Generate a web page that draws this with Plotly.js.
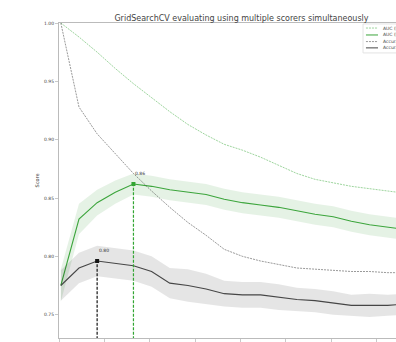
<!DOCTYPE html>
<html>
<head>
<meta charset="utf-8">
<script src="https://cdn.plot.ly/plotly-3.0.1.min.js"></script>
<style>
html,body{margin:0;padding:0;overflow:hidden;background:#fff;}
#chart{width:440px;height:370px;}
</style>
</head>
<body>
<div id="chart"></div>
<script>
// ---- data ----
var minSamplesSplit = [2,22,42,62,82,102,122,142,162,182,202,222,242,262,282,302,322,342,362,382,402];
var aucTrain = [1.000,0.988,0.975,0.961,0.948,0.936,0.924,0.913,0.904,0.896,0.891,0.885,0.878,0.871,0.866,0.863,0.860,0.858,0.856,0.854,0.852];
var aucTest  = [0.775,0.832,0.846,0.855,0.862,0.860,0.857,0.855,0.853,0.849,0.846,0.844,0.842,0.839,0.836,0.834,0.830,0.827,0.825,0.823,0.822];
var aucTestStd = [0.014,0.013,0.011,0.010,0.009,0.009,0.009,0.009,0.009,0.009,0.009,0.009,0.009,0.009,0.009,0.009,0.009,0.009,0.009,0.009,0.009];
var accTrain = [1.000,0.928,0.905,0.888,0.871,0.856,0.842,0.829,0.818,0.806,0.800,0.796,0.793,0.790,0.789,0.788,0.787,0.787,0.786,0.786,0.786];
var accTest  = [0.775,0.790,0.796,0.794,0.792,0.787,0.777,0.775,0.772,0.768,0.767,0.767,0.765,0.763,0.762,0.760,0.758,0.758,0.758,0.759,0.759];
var accTestStd = [0.013,0.013,0.013,0.013,0.013,0.013,0.013,0.014,0.013,0.011,0.011,0.011,0.011,0.010,0.010,0.010,0.009,0.010,0.009,0.009,0.009];
var legendLabels = ["AUC (train)","AUC (test)","Accuracy (train)","Accuracy (test)"];
var yTicks = [0.75,0.80,0.85,0.90,0.95,1.00];
var xTicks = [0,50,100,150,200,250,300,350,400];

var green = "rgb(60,165,60)";
var greenLight = "rgba(60,170,60,0.5)";
var black = "rgb(70,70,70)";
var blackLight = "rgba(70,70,70,0.55)";

function band(mean, std, fill){
  var up = mean.map(function(v,i){return v+std[i];});
  var lo = mean.map(function(v,i){return v-std[i];});
  return [
    {x:minSamplesSplit, y:lo, mode:"lines", line:{width:0}, hoverinfo:"skip", showlegend:false},
    {x:minSamplesSplit, y:up, mode:"lines", line:{width:0}, fill:"tonexty", fillcolor:fill, hoverinfo:"skip", showlegend:false}
  ];
}
function argmax(a){var b=0;for(var i=1;i<a.length;i++){if(a[i]>a[b])b=i;}return b;}

var traces = [];
traces = traces.concat(band(aucTest, aucTestStd, "rgba(0,128,0,0.1)"));
traces.push({x:minSamplesSplit, y:aucTrain, mode:"lines", name:legendLabels[0], line:{color:greenLight, width:1, dash:"2px,1px"}});
traces.push({x:minSamplesSplit, y:aucTest, mode:"lines", name:legendLabels[1], line:{color:green, width:1.1}});
traces = traces.concat(band(accTest, accTestStd, "rgba(0,0,0,0.1)"));
traces.push({x:minSamplesSplit, y:accTrain, mode:"lines", name:legendLabels[2], line:{color:blackLight, width:1, dash:"2px,1px"}});
traces.push({x:minSamplesSplit, y:accTest, mode:"lines", name:legendLabels[3], line:{color:black, width:1.1}});

var annotations = [];
[[aucTest, "rgb(50,165,50)"], [accTest, "rgb(20,20,20)"]].forEach(function(p){
  var bi = argmax(p[0]);
  var bx = minSamplesSplit[bi], by = p[0][bi];
  traces.push({x:[bx,bx], y:[0,by], mode:"lines+markers", showlegend:false, hoverinfo:"skip",
    line:{color:p[1], width:1.2, dash:"3px,1.5px"}, marker:{symbol:"square", size:4, color:p[1]}});
  annotations.push({x:bx, y:by+0.005, xref:"x", yref:"y", text:by.toFixed(2), showarrow:false,
    xanchor:"left", yanchor:"bottom", font:{size:4.5, color:"#333", family:"DejaVu Sans"}});
});

// manual compact legend (matplotlib style)
var shapes = [{type:"rect", xref:"paper", yref:"paper", x0:0.833, x1:0.992, y0:0.905, y1:0.997,
  line:{color:"#dddddd", width:0.8}, fillcolor:"rgba(255,255,255,0.85)", layer:"above"}];
var legStyles = [[greenLight,"2px,1px"],[green,"solid"],[blackLight,"2px,1px"],[black,"solid"]];
var legY = [0.984, 0.962, 0.941, 0.921];
legendLabels.forEach(function(lbl,i){
  shapes.push({type:"line", xref:"paper", yref:"paper", x0:0.841, x1:0.874, y0:legY[i], y1:legY[i],
    line:{color:legStyles[i][0], width:1, dash:legStyles[i][1]}, layer:"above"});
  annotations.push({xref:"paper", yref:"paper", x:0.882, y:legY[i], text:lbl, showarrow:false,
    xanchor:"left", yanchor:"middle", font:{size:4.5, color:"#444", family:"DejaVu Sans"}});
});

var axisCommon = {showline:true, mirror:true, linecolor:"#bbbbbb", linewidth:1, ticks:"outside",
  ticklen:3, tickcolor:"#bbbbbb", tickwidth:0.8, showgrid:false, zeroline:false,
  tickfont:{size:4.5, color:"#444", family:"DejaVu Sans"}};

var layout = {
  width:440, height:370,
  margin:{l:59, r:16, t:23, b:32},
  paper_bgcolor:"#fff", plot_bgcolor:"#fff",
  showlegend:false,
  font:{family:"DejaVu Sans"},
  title:{text:"GridSearchCV evaluating using multiple scorers simultaneously",
    font:{size:8, color:"#444", family:"DejaVu Sans"}, x:0.5, xref:"paper", xanchor:"center",
    y:1, yref:"paper", yanchor:"bottom", pad:{b:2}},
  xaxis:Object.assign({}, axisCommon, {range:[0,402], tickvals:xTicks,
    title:{text:"min_samples_split", font:{size:5, color:"#333"}}}),
  yaxis:Object.assign({}, axisCommon, {range:[0.73,1.0], tickvals:yTicks, tickformat:".2f",
    title:{text:"Score", font:{size:5, color:"#333"}, standoff:4}}),
  shapes:shapes,
  annotations:annotations
};
Plotly.newPlot("chart", traces, layout, {staticPlot:true, displayModeBar:false});
</script>
</body>
</html>
